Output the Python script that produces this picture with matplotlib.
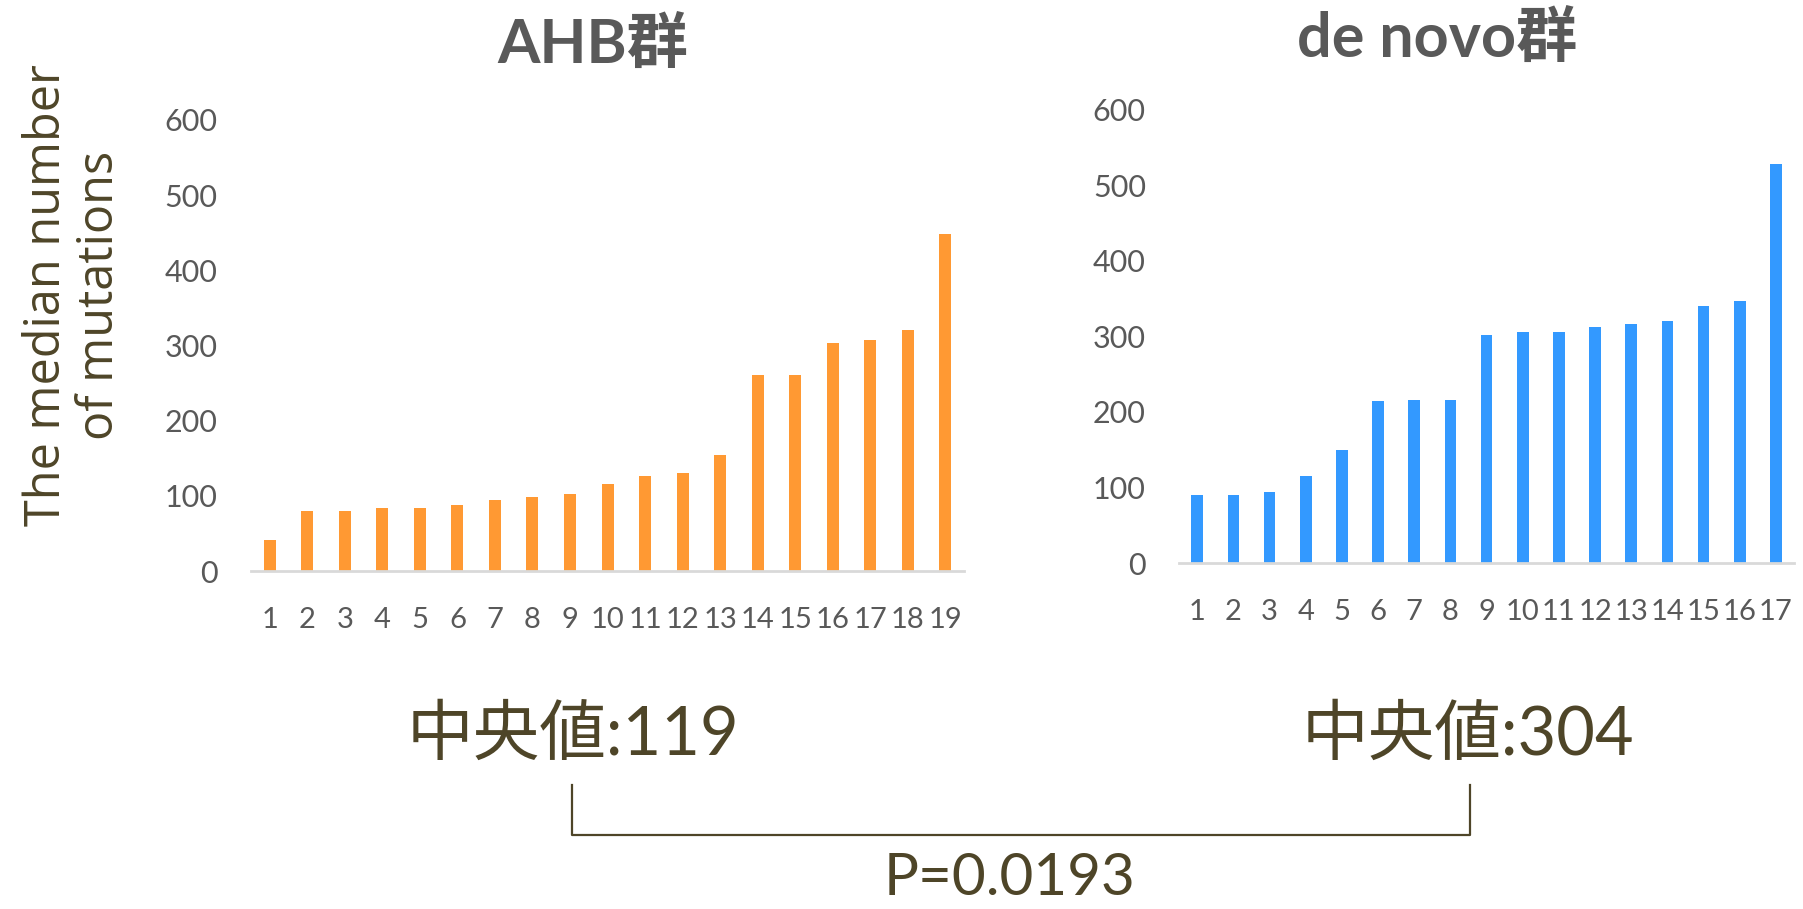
import matplotlib
matplotlib.use("Agg")
import matplotlib.pyplot as plt
from matplotlib import font_manager
from matplotlib.lines import Line2D

# sorted median mutation counts per case
ahb_cases = list(range(1, 20))
ahb_values = [41, 80, 80, 84, 84, 88, 95, 99, 102, 116, 126, 130, 155, 261, 261, 303, 307, 321, 449]

denovo_cases = list(range(1, 18))
denovo_values = [90, 90, 94, 115, 150, 214, 216, 216, 302, 306, 306, 313, 316, 320, 341, 347, 528]

y_ticks = [0, 100, 200, 300, 400, 500, 600]
ahb_title = "AHB群"
denovo_title = "de novo群"
ahb_median = "中央値:119"
denovo_median = "中央値:304"
p_text = "P=0.0193"
y_label = "The median number\nof mutations"

names = {f.name for f in font_manager.fontManager.ttflist}
narrow = "Liberation Sans Narrow" if "Liberation Sans Narrow" in names else "Lato"
cjk = "Noto Sans CJK JP"
fam = [narrow, cjk, "DejaVu Sans"]

gray = "#595959"
olive = "#4E4528"

fig = plt.figure(figsize=(18.03, 9.09), dpi=100)


def bar_panel(rect, cases, values, color, title, title_xy):
    ax = fig.add_axes(rect)
    ax.bar(cases, values, width=0.32, color=color)
    ax.set_xlim(0.5, len(cases) + 0.5)
    ax.set_ylim(0, 600)
    ax.set_yticks(y_ticks)
    ax.set_xticks(cases)
    ax.set_xticklabels([str(c) for c in cases], family=fam, fontsize=21, color=gray)
    ax.set_yticklabels([str(t) for t in y_ticks], family=fam, fontsize=22, color=gray)
    ax.tick_params(length=0)
    ax.tick_params(axis="y", pad=24)
    ax.tick_params(axis="x", pad=26)
    for s in ("top", "right", "left"):
        ax.spines[s].set_visible(False)
    ax.spines["bottom"].set_color("#d9d9d9")
    ax.spines["bottom"].set_linewidth(2)
    fig.text(title_xy[0], title_xy[1], title, family=fam, fontsize=44,
             fontweight="bold", color=gray, ha="center", va="center")
    return ax


bar_panel([0.1392, 0.3718, 0.3955, 0.4962], ahb_cases, ahb_values, "#FF9933",
          ahb_title, (0.329, 0.951))
bar_panel([0.654, 0.3806, 0.341, 0.4985], denovo_cases, denovo_values, "#3399FF",
          denovo_title, (0.797, 0.958))

fig.text(0.041, 0.675, y_label, family=["Open Sans", cjk], fontsize=35,
         color=olive, rotation=90, ha="center", va="center", linespacing=1.1)

fig.text(0.318, 0.19, ahb_median, family=fam, fontsize=48, color=olive,
         ha="center", va="center")
fig.text(0.814, 0.19, denovo_median, family=fam, fontsize=48, color=olive,
         ha="center", va="center")

# bracket joining the two medians
xl, xr = 572 / 1803, 1470 / 1803
yt, yb = 1 - 785 / 909, 1 - 835 / 909
fig.add_artist(Line2D([xl, xl, xr, xr], [yt, yb, yb, yt], color=olive, lw=1.6,
                      transform=fig.transFigure))

fig.text(0.5597, 0.034, p_text, family=fam, fontsize=42, color=olive,
         ha="center", va="center")

fig.savefig("out.png", dpi=100)
